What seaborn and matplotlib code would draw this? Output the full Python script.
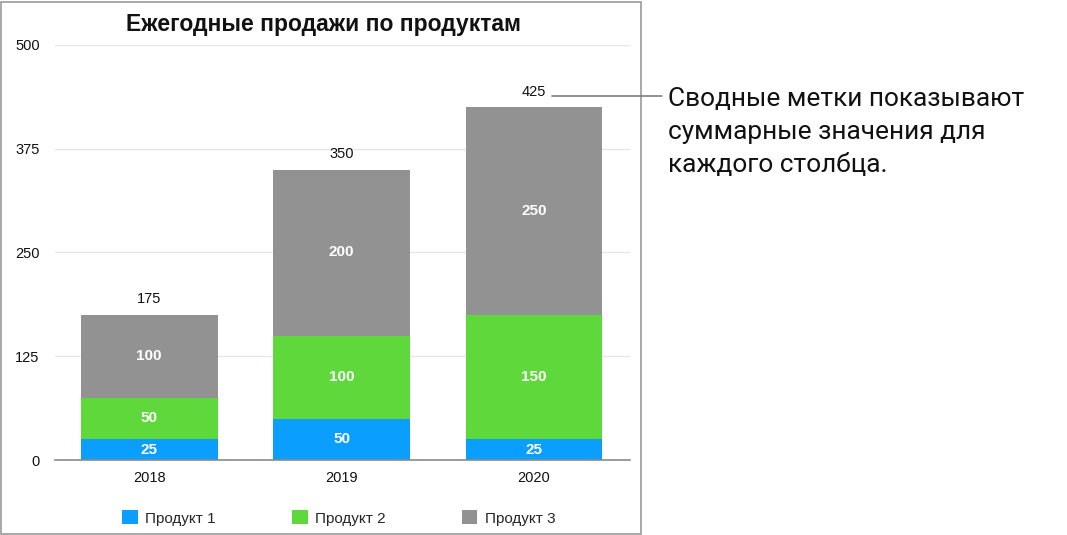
import numpy as np
import pandas as pd
import matplotlib.pyplot as plt
import seaborn as sns
from matplotlib.patches import Rectangle, Patch

# data
years = ['2018', '2019', '2020']
product1 = [25, 50, 25]
product2 = [50, 100, 150]
product3 = [100, 200, 250]
series_names = ['Продукт 1', 'Продукт 2', 'Продукт 3']
colors = ['#0A9EFF', '#5ED83A', '#929292']
y_ticks = [0, 125, 250, 375, 500]

sns.set_theme(style='white')
plt.rcParams['font.family'] = ['Liberation Sans', 'DejaVu Sans']

df = pd.DataFrame({'Год': years, 'p1': product1, 'p2': product2, 'p3': product3})
totals = df[['p1', 'p2', 'p3']].sum(axis=1).tolist()

fig = plt.figure(figsize=(10.67, 5.35), dpi=100)
ax = fig.add_axes([55 / 1067, 75 / 535, 575 / 1067, 415 / 535])

bottoms = np.zeros(len(years))
for col, name, c in zip(['p1', 'p2', 'p3'], series_names, colors):
    sns.barplot(data=df, x='Год', y=col, color=c, width=0.71, bottom=bottoms,
                saturation=1, ax=ax, label=name, legend=False,
                edgecolor='none', linewidth=0)
    bottoms = bottoms + df[col].values

for cont in ax.containers:
    ax.bar_label(cont, labels=[f'{v:g}' for v in cont.datavalues], label_type='center',
                 color='white', fontsize=11, fontweight='bold')
ax.bar_label(ax.containers[-1], labels=[str(t) for t in totals], padding=6,
             color='#111111', fontsize=10.5)

ax.set_xlim(-0.49, 2.5)
ax.set_ylim(0, 500)
ax.set_yticks(y_ticks)
ax.set_yticklabels([str(t) for t in y_ticks])
ax.yaxis.grid(True, color='#E6E6E6', lw=1)
ax.set_axisbelow(True)
ax.set_xlabel('')
ax.set_ylabel('')
for s in ['top', 'right', 'left']:
    ax.spines[s].set_visible(False)
ax.spines['bottom'].set_color('#8A8A8A')
ax.spines['bottom'].set_linewidth(1.2)
ax.tick_params(axis='y', length=0, pad=11, labelsize=10.5, labelcolor='#111111')
ax.tick_params(axis='x', length=0, pad=8, labelsize=10.5, labelcolor='#111111')

fig.text(323 / 1067, 1 - 24 / 535, 'Ежегодные продажи по продуктам', ha='center', va='center',
         fontsize=16.5, fontweight='bold', color='#111111')

handles = [Patch(facecolor=c, edgecolor='none') for c in colors]
fig.legend(handles, series_names, loc='center', bbox_to_anchor=(339 / 1067, 17 / 535), ncol=3,
           frameon=False, fontsize=11, handlelength=1.0, handleheight=1.0, columnspacing=5.0,
           handletextpad=0.5)

# frame around the chart
fig.add_artist(Rectangle((1 / 1067, 1 / 535), 640 / 1067, 532 / 535, transform=fig.transFigure,
                         fill=False, edgecolor='#9A9A9A', lw=1.2))

# callout
fig.add_artist(plt.Line2D([552 / 1067, 662 / 1067], [1 - 96 / 535, 1 - 96 / 535],
                          transform=fig.transFigure, color='#808080', lw=1.2))
fig.text(668 / 1067, 1 - 132 / 535, 'Сводные метки показывают\nсуммарные значения для\nкаждого столбца.',
         ha='left', va='center', fontsize=18.9, color='#111111', linespacing=1.47,
         family=['Roboto', 'DejaVu Sans'])

fig.savefig('out.png', dpi=100)
